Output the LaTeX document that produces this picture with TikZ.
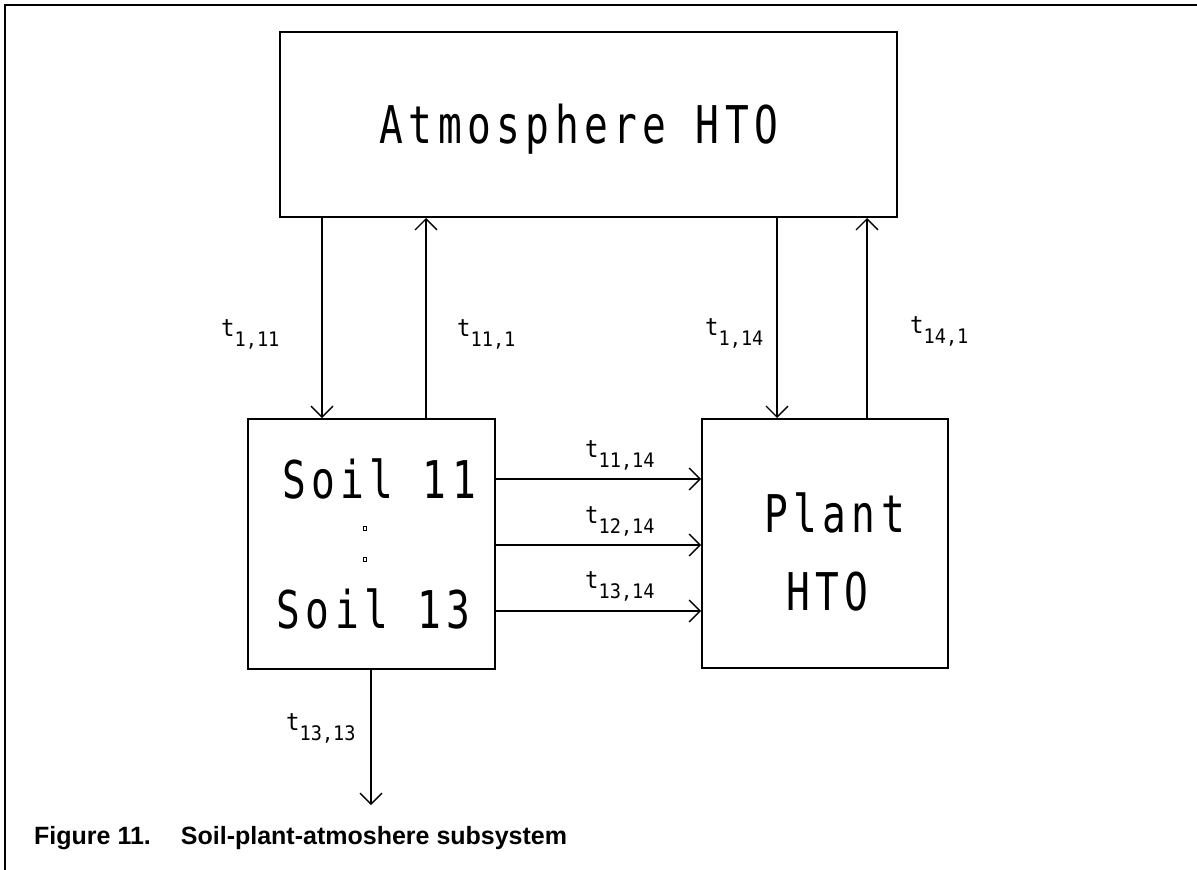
\documentclass[tikz,border=0pt]{standalone}
\usepackage{fontspec}
\usetikzlibrary{arrows.meta}
\newfontfamily\plotfont{DejaVu Sans Mono}[FakeStretch=0.93]
\newfontfamily\bigfont{DejaVu Sans Mono}[FakeStretch=0.76,LetterSpace=10.5]
\newfontfamily\capfont{Liberation Sans}
\newcommand\tlab[1]{{\fontsize{24}{24}\selectfont t}\raisebox{-10pt}{\fontsize{20}{20}\selectfont #1}}
\begin{document}
\begin{tikzpicture}[x=1pt,y=-1pt,
  box/.style={draw, line width=2pt, inner sep=0pt},
  arr/.style={line width=1.3pt, -{Straight Barb[length=11pt,width=22pt,line width=1.3pt]}},
  big/.style={font=\bigfont\fontsize{52}{52}\selectfont, inner sep=0pt, anchor=base},
  lbl/.style={font=\plotfont, inner sep=0pt, anchor=base west}]
\useasboundingbox (0,0) rectangle (1197,870);
% frame
\draw[line width=2pt] (1197,5) -- (5,5) -- (5,870);
% boxes
\node[box, minimum width=617pt, minimum height=185pt] (atm) at (588.5,124.5) {};
\node[box, minimum width=247pt, minimum height=250pt] (soil) at (371.5,544) {};
\node[box, minimum width=246pt, minimum height=249pt] (plant) at (825,543.5) {};
% box texts
\node[big] (atmtext) at (579,143) {Atmosphere HTO};
\node[big] (s11) at (379,498) {Soil 11};
\node[big] (s13) at (373.5,628) {Soil 13};
\node[big] (pl) at (834.5,532) {Plant};
\node[big] (hto) at (827.5,610) {HTO};
\draw[line width=0.9pt] (363.5,526) rectangle (366.5,530);
\draw[line width=0.9pt] (363.5,557) rectangle (366.5,561);
% connector positions
\coordinate (xa) at (322,0);
\coordinate (xb) at (426,0);
\coordinate (xc) at (777,0);
\coordinate (xd) at (867,0);
\coordinate (ya) at (0,479);
\coordinate (yb) at (0,545);
\coordinate (yc) at (0,611);
\coordinate (out) at (371,805);
% connectors
\draw[arr] (xa |- atm.south) -- (xa |- soil.north);
\draw[arr] (xb |- soil.north) -- (xb |- atm.south);
\draw[arr] (xc |- atm.south) -- (xc |- plant.north);
\draw[arr] (xd |- plant.north) -- (xd |- atm.south);
\draw[arr] (soil.east |- ya) -- (plant.west |- ya);
\draw[arr] (soil.east |- yb) -- (plant.west |- yb);
\draw[arr] (soil.east |- yc) -- (plant.west |- yc);
\draw[arr] (out |- soil.south) -- (out);
% labels
\node[lbl] (l1) at (221,336) {\tlab{1,11}};
\node[lbl] (l2) at (457,336) {\tlab{11,1}};
\node[lbl] (l3) at (705,335) {\tlab{1,14}};
\node[lbl] (l4) at (910,333) {\tlab{14,1}};
\node[lbl] (l5) at (585,457) {\tlab{11,14}};
\node[lbl] (l6) at (585,523) {\tlab{12,14}};
\node[lbl] (l7) at (585,588) {\tlab{13,14}};
\node[lbl] (l8) at (286,730) {\tlab{13,13}};
% caption
\node[anchor=base west, inner sep=0pt, font=\capfont\bfseries\fontsize{25}{25}\selectfont] (cap) at (34,844) {Figure 11.\hspace{30pt}Soil-plant-atmoshere subsystem};
\end{tikzpicture}
\end{document}
